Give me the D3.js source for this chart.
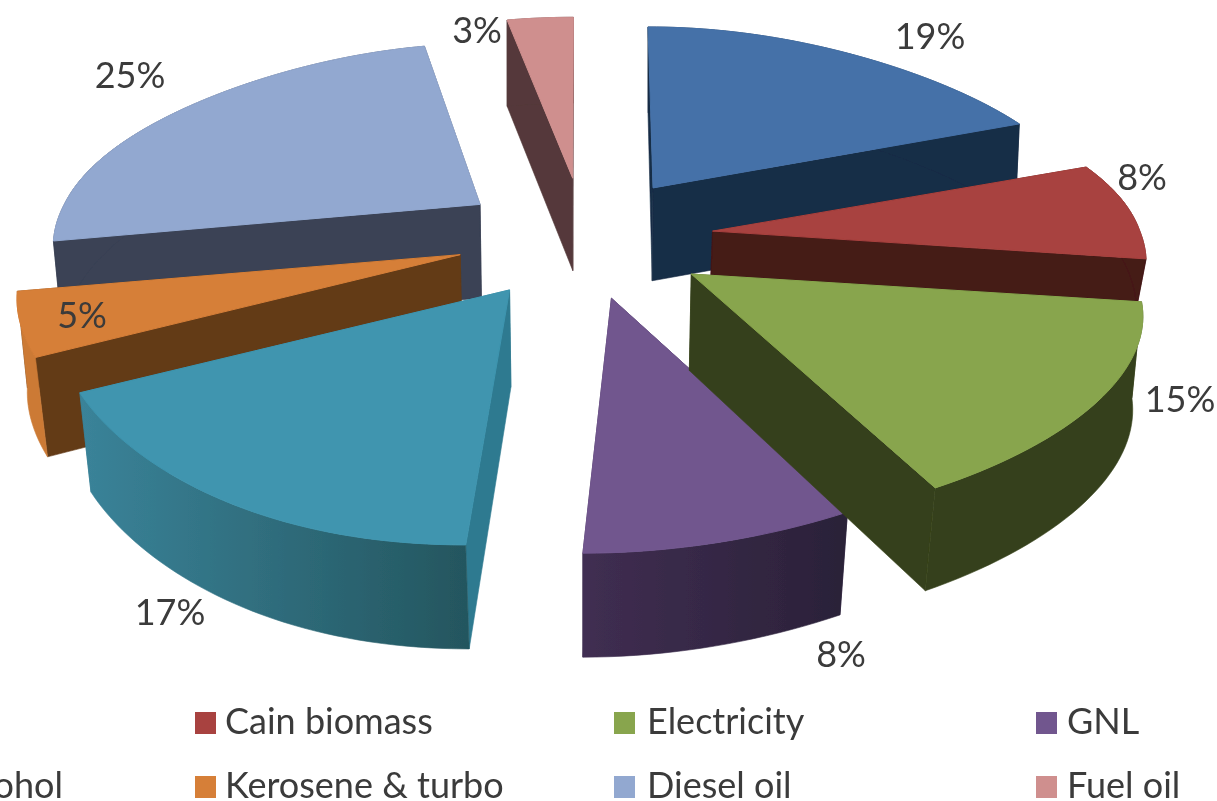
<!DOCTYPE html>
<html><head><meta charset="utf-8">
<script src="https://cdn.jsdelivr.net/npm/d3@7/dist/d3.min.js"></script>
<style>html,body{margin:0;padding:0;background:#fff;overflow:hidden}svg{display:block}</style>
</head><body><svg id="c" width="1217" height="801"></svg>
<script>
// ---- data ----
const shares = [18.9, 8.4, 14.7, 8, 17, 5, 25, 3];
const legendNames = [null, "Cain biomass", "Electricity", "GNL", "Alcohol", "Kerosene & turbo", "Diesel oil", "Fuel oil"];
const topColors  = ["#4571a8", "#a8423f", "#88a54d", "#71568e", "#3f95af", "#d67f38", "#92a8d0", "#cf8f8e"];
const wallColors = ["#182d46", "#451a18", "#36411b", "#3d2d4f", "#2f7a90", "#633a18", "#3a4254", "#54393a"];

// ---- layout ----
const W = 1217, H = 801, cx = 582, cy = 240;
const paintOrder = [7, 6, 0, 5, 1, 4, 3, 2];
const rimScale = [0.975, 0.971, 1, 1.01, 1.0, 0.98, 0.945, 1];
const rimTilt  = [0.2, 0.13, 0.2, 0.2, 0.2, 0.2, 0.2, 0.2];
const wallScale = [1, 0.52, 1, 1, 1, 1, 1, 1];
const apexNudge = [[-2,-4],[1,-2],[2,1],[-3,2],[-6,0],[1,-5],[6,-3],[3,-4]];
const arcWallRamps = {3: ["#402e52", "#2a2138"], 4: ["#3a8399", "#24565f"], 5: ["#cc7a34", "#cc7a34"]};
const labelSpots = [[930,36],[1142,177],[1180,399],[841,654],[170,612],[82,315],[130,75],[477,30]];
const legendCols = [[null,null],[195,225],[614,647],[1036,1067]];
const legendRows = [734, 798];

const explosion = 0.29;
const apexX = d3.scaleLinear().domain([-1,1]).range([cx-450, cx+450]);
const apexY = d3.scaleLinear().domain([-1,1]).range([cy-200, cy+200]);
const pieAngles = d3.pie().value(d=>d).sort(null)(shares);
const pct = d3.format(".0f");

const front = a => -Math.cos(a);
function rim(a, ax, scale, tilt){
  const z = front(a);
  const shear = -33*Math.pow(Math.max(0,z),4);
  return [scale*440*Math.sin(a)*(1+tilt*z)+shear+(ax-cx)*(z>0?0.15:0.07)*z, 185.7*z+47*z*z+22.3*z*z*z];
}
const line = d3.line();

const svg = d3.select("#c");
const defs = svg.append("defs");
defs.append("filter").attr("id","soft").append("feGaussianBlur").attr("stdDeviation",0.7);
const root = svg.append("g").attr("filter","url(#soft)");

paintOrder.forEach(i=>{
  const s = pieAngles[i], mid=(s.startAngle+s.endAngle)/2;
  const drop = (p,z) => [p[0]-(p[0]-cx)*0.015*(1+z), p[1]+(95+9*z)*wallScale[i]];
  const ax = apexX(explosion*Math.sin(mid))+apexNudge[i][0], ay = apexY(explosion*front(mid))+apexNudge[i][1];
  const apex=[ax,ay], apexZ = explosion*front(mid);
  const n = Math.max(6,Math.round((s.endAngle-s.startAngle)*40));
  const angs = d3.range(n+1).map(k=>s.startAngle+(s.endAngle-s.startAngle)*k/n);
  const edge = angs.map(a=>{const r=rim(a,ax,rimScale[i],rimTilt[i]);return [ax+r[0],ay+r[1]];});
  const edgeLow = edge.map((p,k)=>drop(p,front(angs[k])));
  const apexLow = drop(apex,apexZ);
  const g = root.append("g").attr("class","slice");

  const quad=(p,a)=>[apex,p,drop(p,front(a)),apexLow];
  const radials=[{q:quad(edge[0],s.startAngle),z:front(s.startAngle)},{q:quad(edge[n],s.endAngle),z:front(s.endAngle)}]
      .sort((a,b)=>a.z-b.z);
  radials.forEach(r=>g.append("path").attr("d",line(r.q)+"Z").attr("fill",wallColors[i]).attr("stroke",wallColors[i]).attr("stroke-width",0.6));

  let arcFill = wallColors[i];
  const ramp = arcWallRamps[i];
  if(ramp){
    const id="ramp"+i, xs=edge.map(p=>p[0]);
    const lg=defs.append("linearGradient").attr("id",id).attr("gradientUnits","userSpaceOnUse")
      .attr("x1",d3.min(xs)).attr("x2",d3.max(xs)).attr("y1",0).attr("y2",0);
    lg.append("stop").attr("offset",0).attr("stop-color",ramp[0]);
    lg.append("stop").attr("offset",1).attr("stop-color",ramp[1]);
    arcFill=`url(#${id})`;
  }
  g.append("path").attr("d",line(edge.concat(edgeLow.slice().reverse()))+"Z").attr("fill",arcFill).attr("stroke",arcFill).attr("stroke-width",0.6);
  g.append("path").attr("d",line([apex].concat(edge))+"Z").attr("fill",topColors[i]).attr("stroke",topColors[i]).attr("stroke-width",1);
});

const fontFamily = "Lato, Carlito, 'Noto Sans', sans-serif";
const fontSize = 36;
root.append("g").selectAll("text").data(shares).join("text")
  .attr("x",(d,i)=>labelSpots[i][0]).attr("y",(d,i)=>labelSpots[i][1]+13)
  .attr("text-anchor","middle").attr("font-family",fontFamily).attr("font-size",fontSize).attr("fill","#3a3a3a")
  .text(d=>pct(d)+"%");

const lg = root.append("g");
legendNames.forEach((name,i)=>{
  if(!name) return;
  const col=i%4,row=Math.floor(i/4),y=legendRows[row];
  if(col===0){
    lg.append("text").attr("x",63).attr("y",y).attr("text-anchor","end")
      .attr("font-family",fontFamily).attr("font-size",fontSize).attr("fill","#3a3a3a").text(name);
    return;
  }
  const [sx,tx]=legendCols[col];
  lg.append("rect").attr("x",sx).attr("y",y-22).attr("width",21).attr("height",22).attr("fill",topColors[i]);
  lg.append("text").attr("x",tx).attr("y",y)
    .attr("font-family",fontFamily).attr("font-size",fontSize).attr("fill","#3a3a3a").text(name);
});
</script></body></html>
